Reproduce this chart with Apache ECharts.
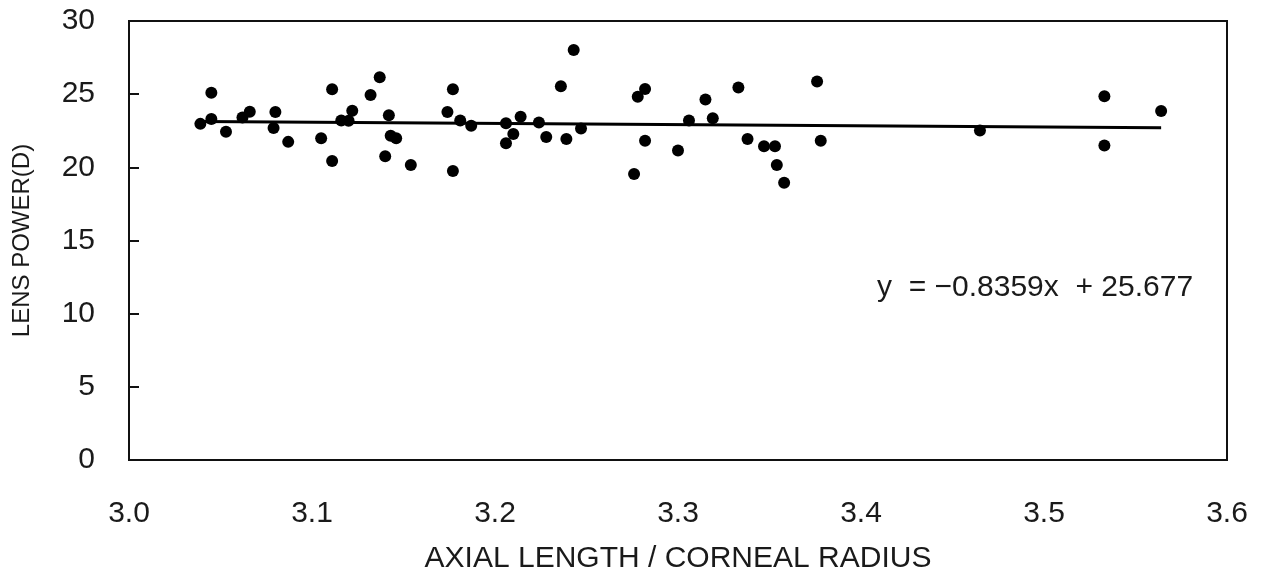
<!DOCTYPE html>
<html>
<head>
<meta charset="utf-8">
<script src="https://cdn.jsdelivr.net/npm/echarts@6/dist/echarts.min.js"></script>
<style>
  html, body { margin: 0; padding: 0; background: #fff; }
  #chart { width: 1266px; height: 579px; }
</style>
</head>
<body>
<div id="chart"></div>
<script>
// axial length / corneal radius
const ratio = [3.039, 3.045, 3.045, 3.053, 3.062, 3.066, 3.080, 3.079, 3.087, 3.105, 3.111, 3.111,
    3.116, 3.120, 3.122, 3.132, 3.137, 3.142, 3.143, 3.146, 3.140, 3.154,
    3.177, 3.174, 3.181, 3.187, 3.177, 3.206, 3.214, 3.210, 3.206, 3.224, 3.228, 3.236, 3.243,
    3.239, 3.247, 3.282, 3.278, 3.282, 3.276, 3.306, 3.300,
    3.315, 3.319, 3.333, 3.338, 3.347, 3.353, 3.354, 3.358, 3.376, 3.378,
    3.465, 3.533, 3.533, 3.564];
// lens power (D)
const lensPower = [22.97, 25.09, 23.3, 22.43, 23.4, 23.8, 23.78, 22.68, 21.74, 21.98, 25.34, 20.43,
    23.2, 23.18, 23.87, 24.95, 26.15, 23.56, 22.16, 21.98, 20.76, 20.16,
    25.34, 23.78, 23.2, 22.84, 19.75, 23.02, 23.45, 22.27, 21.64, 23.06, 22.07, 25.54, 28.02,
    21.94, 22.66, 25.36, 24.82, 21.82, 19.55, 23.2, 21.15,
    24.64, 23.36, 25.45, 21.94, 21.44, 21.44, 20.16, 18.94, 25.86, 21.82,
    22.52, 24.86, 21.49, 23.85];
const slope = -0.8359;
const intercept = 25.677;
const xTicks = [3.0, 3.6, 0.1];   // min, max, step
const yTicks = [0, 30, 5];

const points = ratio.map(function (x, i) { return [x, lensPower[i]]; });
const xMin = Math.min.apply(null, ratio);
const xMax = Math.max.apply(null, ratio);
const fitLine = [[xMin, slope * xMin + intercept], [xMax, slope * xMax + intercept]];

const chart = echarts.init(document.getElementById("chart"));
const font = "'Liberation Sans', Arial, sans-serif";
const option = {
    animation: false,
    backgroundColor: '#fff',
    grid: {
        left: 129,
        right: 39,
        top: 21,
        bottom: 116,
        show: true,
        borderColor: '#111',
        borderWidth: 2
    },
    xAxis: {
        type: 'value',
        min: xTicks[0],
        max: xTicks[1],
        interval: xTicks[2],
        name: 'AXIAL LENGTH / CORNEAL RADIUS',
        nameLocation: 'middle',
        nameGap: 84,
        nameTextStyle: { color: '#1a1a1a', fontSize: 30, fontFamily: font },
        axisLine: { lineStyle: { color: '#111', width: 2 } },
        axisTick: { show: false },
        splitLine: { show: false },
        axisLabel: {
            color: '#1a1a1a',
            fontSize: 30,
            fontFamily: font,
            margin: 39,
            formatter: function (v) { return v.toFixed(1); }
        }
    },
    yAxis: {
        type: 'value',
        min: yTicks[0],
        max: yTicks[1],
        interval: yTicks[2],
        name: 'LENS POWER(D)',
        nameLocation: 'middle',
        nameGap: 95,
        nameTextStyle: { color: '#1a1a1a', fontSize: 24, fontFamily: font },
        axisLine: { lineStyle: { color: '#111', width: 2 } },
        axisTick: { show: true, inside: true, length: 10, lineStyle: { color: '#111', width: 2 } },
        splitLine: { show: false },
        axisLabel: { color: '#1a1a1a', fontSize: 30, fontFamily: font, margin: 34 }
    },
    graphic: [{
        type: 'text',
        left: 877,
        top: 273,
        style: {
            text: 'y  = \u22120.8359x  + 25.677',
            fill: '#1a1a1a',
            fontSize: 30,
            fontFamily: font
        }
    }],
    series: [{
        type: 'scatter',
        data: points,
        symbol: 'circle',
        symbolSize: 12,
        itemStyle: { color: '#000', opacity: 1 },
        z: 3
    }, {
        type: 'line',
        data: fitLine,
        symbol: 'none',
        lineStyle: { color: '#000', width: 3 },
        z: 2
    }]
};
chart.setOption(option);
</script>
</body>
</html>
